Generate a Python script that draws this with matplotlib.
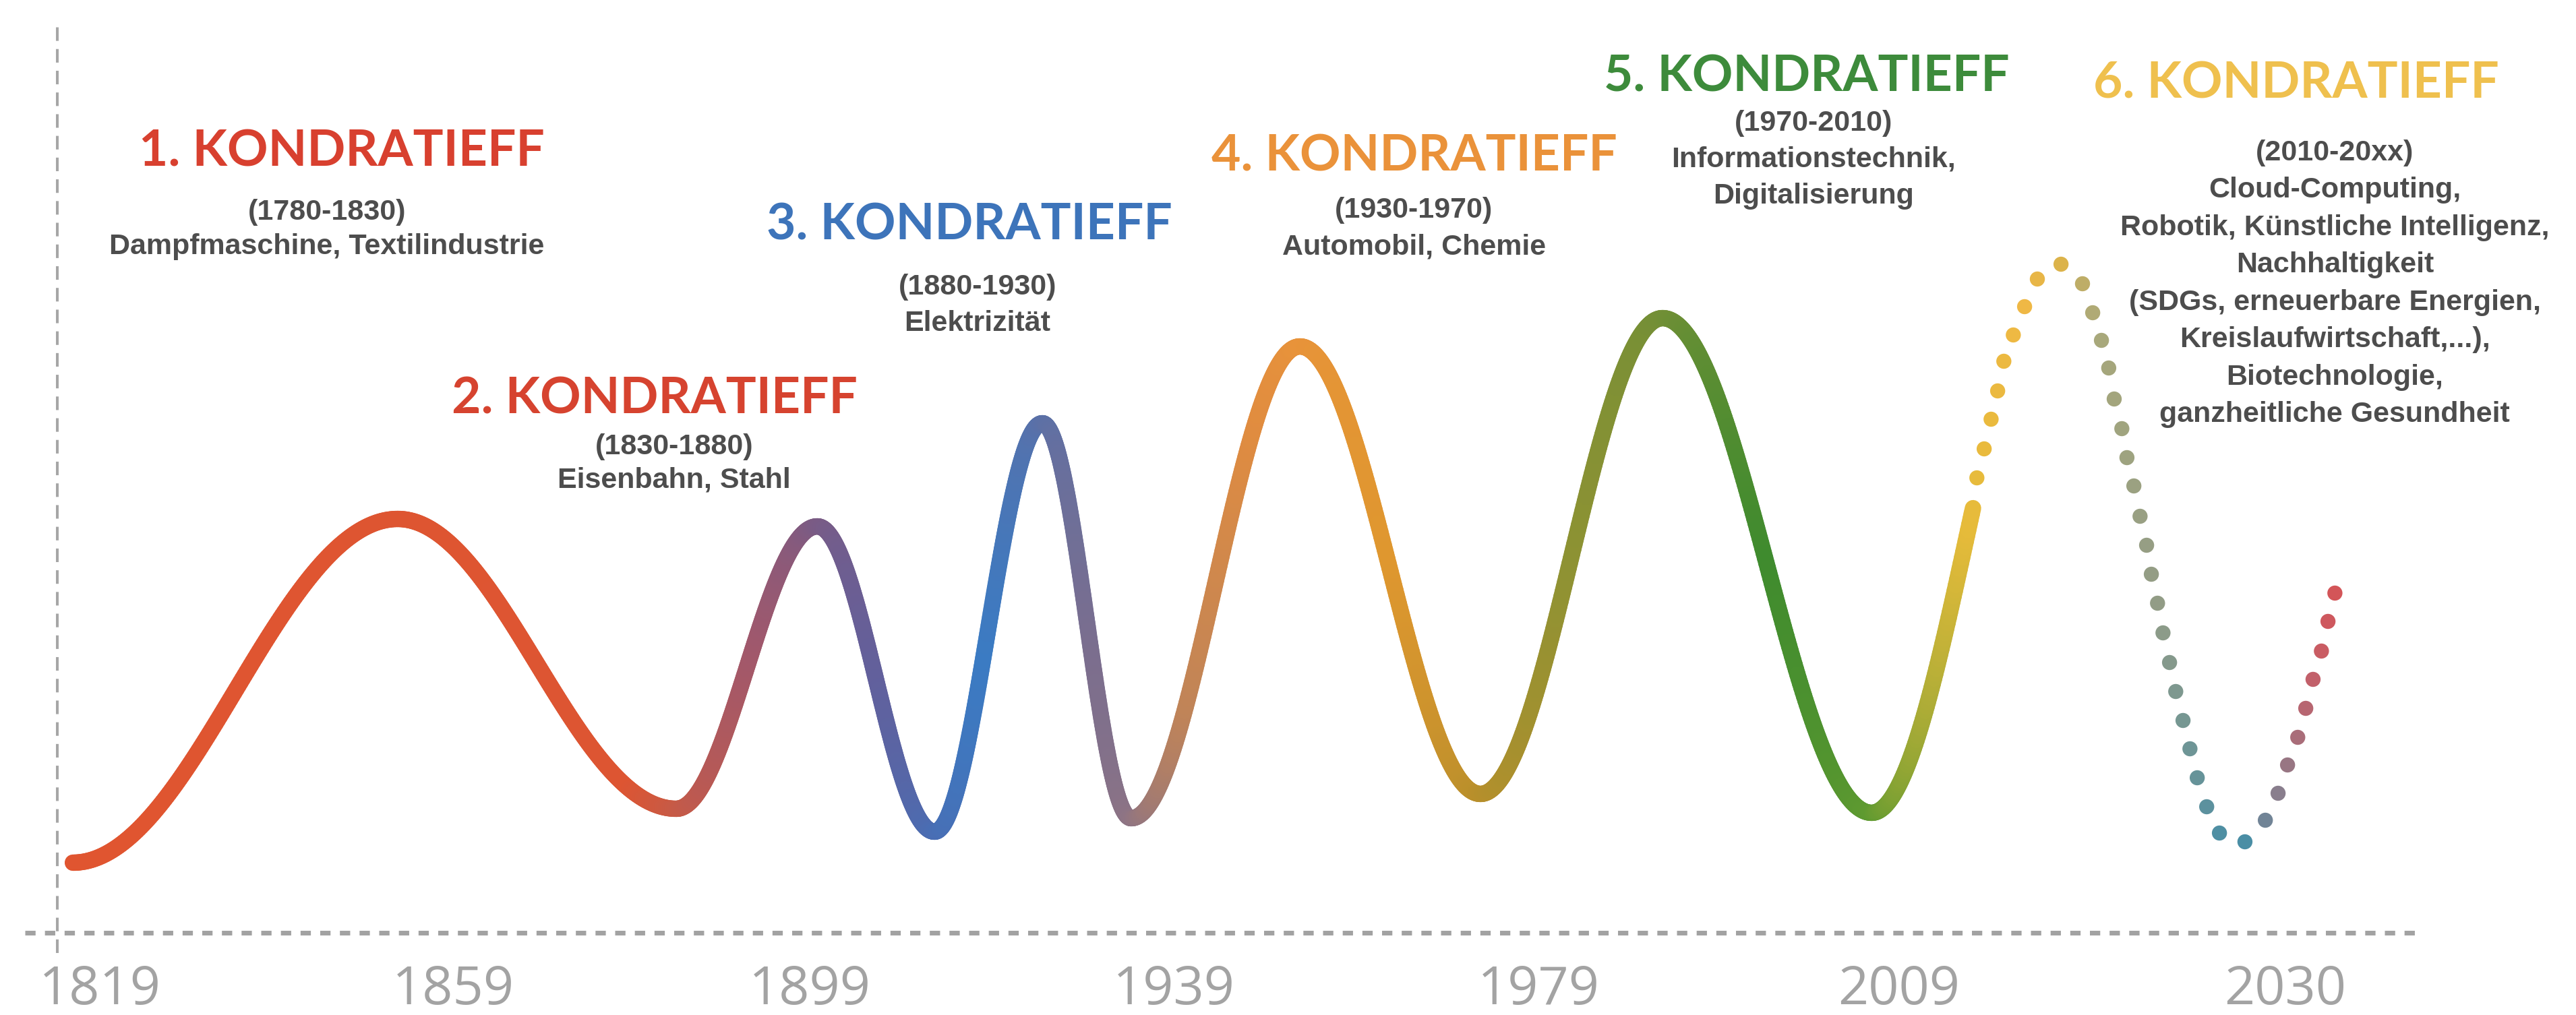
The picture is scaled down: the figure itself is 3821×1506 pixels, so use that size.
import numpy as np
import matplotlib
matplotlib.use('Agg')
import matplotlib.pyplot as plt
from matplotlib.collections import LineCollection
from matplotlib.bezier import BezierSegment
from matplotlib.colors import to_rgb

# x: position on the time line (1 unit = distance between two year labels)
# y: height of the wave above the time axis
TICK_POS = [0.0, 0.97, 1.95, 2.95, 3.95, 4.94, 6.0]
TICK_LABELS = ['1819', '1859', '1899', '1939', '1979', '2009', '2030']

# turning points of the wave (start, then peak / trough alternating)
WAVE_X = [-0.074, 0.818, 1.583, 1.970, 2.292, 2.588, 2.832, 3.295, 3.791, 4.291, 4.865, 5.385]
WAVE_Y = [1.04, 6.14, 1.84, 6.03, 1.50, 7.56, 1.70, 8.70, 2.06, 9.12, 1.78, 9.92]
SOLID_END_Y = 6.37  # the solid line stops here, the forecast is dotted

# dotted forecast (6th wave)
DOT_X = [5.154, 5.174, 5.193, 5.211, 5.228, 5.254, 5.285, 5.320, 5.385, 5.444,
         5.472, 5.496, 5.516, 5.531, 5.552, 5.566, 5.585, 5.602, 5.620, 5.633,
         5.650, 5.665, 5.683, 5.700, 5.720, 5.739, 5.759, 5.785, 5.820, 5.890,
         5.946, 5.981, 6.007, 6.035, 6.057, 6.077, 6.100, 6.118, 6.137]
DOT_Y = [6.75, 7.18, 7.62, 8.04, 8.48, 8.87, 9.29, 9.70, 9.92, 9.63,
         9.20, 8.79, 8.38, 7.92, 7.48, 7.05, 6.63, 6.18, 5.75, 5.32,
         4.89, 4.45, 4.01, 3.58, 3.15, 2.73, 2.30, 1.87, 1.48, 1.35,
         1.67, 2.07, 2.49, 2.90, 3.33, 3.76, 4.18, 4.62, 5.04]

TITLES = ['1. KONDRATIEFF', '2. KONDRATIEFF', '3. KONDRATIEFF',
          '4. KONDRATIEFF', '5. KONDRATIEFF', '6. KONDRATIEFF']
PERIODS = ['(1780-1830)', '(1830-1880)', '(1880-1930)',
           '(1930-1970)', '(1970-2010)', '(2010-20xx)']
TOPICS = [
    ['Dampfmaschine, Textilindustrie'],
    ['Eisenbahn, Stahl'],
    ['Elektrizität'],
    ['Automobil, Chemie'],
    ['Informationstechnik,', 'Digitalisierung'],
    ['Cloud-Computing,', 'Robotik, Künstliche Intelligenz,', 'Nachhaltigkeit',
     '(SDGs, erneuerbare Energien,', 'Kreislaufwirtschaft,...),',
     'Biotechnologie,', 'ganzheitliche Gesundheit'],
]

# colour gradient along the time line
STOP_X = [-0.074, 1.45, 1.583, 1.80, 1.970, 2.133, 2.292, 2.429, 2.588, 2.725,
          2.832, 2.984, 3.169, 3.295, 3.540, 3.791, 4.039, 4.291, 4.576, 4.865,
          5.002, 5.133, 5.280, 5.385, 5.483, 5.650, 5.816, 5.890, 5.983, 6.076, 6.137]
STOP_C = ['#e05530', '#dd5532', '#c85a45', '#a0586c', '#7b5b84', '#62609c', '#4a6db3',
          '#3b7bc3', '#5a70a8', '#7b6e8e', '#8e7484', '#c08458', '#e08c40', '#e8933a',
          '#df972f', '#b88f2b', '#8e9233', '#738f36', '#3f8b2e', '#5f9a30', '#a4aa36',
          '#e6bb3a', '#f0b845', '#dcb34a', '#aaa97a', '#929c86', '#4f8fa3', '#4a8ea5',
          '#8a7e8c', '#c2606a', '#d35558']

TITLE_COLORS = ['#d8402f', '#d6432f', '#3d74ba', '#ea923a', '#3d8b3b', '#efc04e']
# layout: title centre, sub text centre (first line) per block
TITLE_POS = [(0.665, 11.59), (1.524, 7.92), (2.388, 10.50),
             (3.610, 11.52), (4.687, 12.70), (6.031, 12.60)]
SUB_POS = [(0.624, 10.69), (1.577, 7.21), (2.410, 9.58),
           (3.608, 10.72), (4.706, 12.01), (6.137, 11.57)]
LINE_STEP = [0.51, 0.50, 0.54, 0.54, 0.54, 0.555]


def wave_color(x):
    rgb = np.array([to_rgb(c) for c in STOP_C])
    return np.column_stack([np.interp(x, STOP_X, rgb[:, k]) for k in range(3)])


def main():
    fig = plt.figure(figsize=(38.21, 15.06), dpi=100)
    fig.patch.set_facecolor('white')
    ax = fig.add_axes([0, 122 / 1506, 1, 1384 / 1506])
    ax.set_xlim(-0.274, 6.799)
    ax.set_ylim(0, 13.84)
    for s in ax.spines.values():
        s.set_visible(False)
    ax.set_yticks([])
    ax.set_xticks(TICK_POS, TICK_LABELS)
    ax.tick_params(axis='x', length=0, pad=33, labelsize=57, labelcolor='#a3a3a3')
    for lab in ax.get_xticklabels():
        lab.set_family(['Liberation Sans Narrow', 'Open Sans', 'DejaVu Sans'])

    # axis lines
    ax.plot([-0.2055, 6.362], [0, 0], color='#a2a2a2', lw=5,
            linestyle=(0, (2.2, 2.0)), dash_capstyle='butt', clip_on=False)
    ax.plot([-0.1166, -0.1166], [-0.30, 13.55], color='#a6a6a6', lw=2.9,
            linestyle=(0, (5, 3)), dash_capstyle='butt', clip_on=False)

    # solid wave: smooth half waves between the turning points
    pts = []
    for i in range(len(WAVE_X) - 1):
        x0, y0, x1, y1 = WAVE_X[i], WAVE_Y[i], WAVE_X[i + 1], WAVE_Y[i + 1]
        dx = x1 - x0
        ctrl = np.array([[x0, y0], [x0 + 0.364 * dx, y0],
                         [x1 - 0.364 * dx, y1], [x1, y1]])
        seg = BezierSegment(ctrl)(np.linspace(0, 1, 150))
        pts.append(seg if i == 0 else seg[1:])
    pts = np.vstack(pts)
    keep = ~((pts[:, 0] > WAVE_X[-2]) & (pts[:, 1] > SOLID_END_Y))
    pts = pts[keep]
    segs = np.stack([pts[:-1], pts[1:]], axis=1)
    mid_x = (pts[:-1, 0] + pts[1:, 0]) / 2
    lc = LineCollection(segs, colors=wave_color(mid_x), linewidths=17.5,
                        capstyle='round', joinstyle='round', zorder=3)
    ax.add_collection(lc)

    # dotted forecast
    ax.scatter(DOT_X, DOT_Y, s=260, c=wave_color(np.array(DOT_X)),
               linewidths=0, zorder=3, clip_on=False)

    # labels
    for i in range(len(TITLES)):
        tx, ty = TITLE_POS[i]
        ax.text(tx, ty, TITLES[i], ha='center', va='center', fontsize=54,
                family='Lato', weight='bold', color=TITLE_COLORS[i])
        sx, sy = SUB_POS[i]
        lines = [PERIODS[i]] + TOPICS[i]
        for j, line in enumerate(lines):
            ax.text(sx, sy - j * LINE_STEP[i], line, ha='center', va='center',
                    fontsize=31, family='Liberation Sans', weight='bold',
                    color='#4d4d4d')

    fig.savefig('out.png', dpi=100, facecolor='white')
    plt.close(fig)


if __name__ == '__main__':
    main()
